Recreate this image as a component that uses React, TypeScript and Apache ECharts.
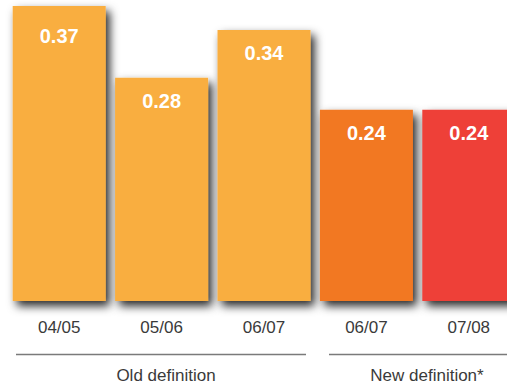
import React, { useEffect, useRef } from "react";
import * as echarts from "echarts";

// Years shown on the axis and the value of each bar
const years = ["04/05", "05/06", "06/07", "06/07", "07/08"];
const values = [0.37, 0.28, 0.34, 0.24, 0.24];
const barColors = ["#F9AE40", "#F9AE40", "#F9AE40", "#F27821", "#EE4037"];

// Grouping brackets under the axis
const groupNames = ["Old definition", "New definition*"];

const FONT = "'Liberation Sans', Arial, Helvetica, sans-serif";

export default function App() {
  const ref = useRef<HTMLDivElement>(null);

  useEffect(() => {
    if (!ref.current) return;
    const chart = echarts.init(ref.current, undefined, { renderer: "svg" });

    chart.setOption({
      animation: false,
      backgroundColor: "#ffffff",
      grid: {
        left: 8,
        top: 6,
        width: 512,
        height: 295,
        containLabel: false,
        outerBoundsMode: "none",
      },
      xAxis: {
        type: "category",
        data: years,
        axisLine: { show: false },
        axisTick: { show: false },
        axisLabel: {
          margin: 18,
          fontFamily: FONT,
          fontSize: 17,
          color: "#3a3a3a",
        },
      },
      yAxis: {
        type: "value",
        min: 0,
        max: 0.37,
        show: false,
        splitLine: { show: false },
      },
      series: [
        {
          type: "bar",
          barWidth: 93,
          data: values.map((v, i) => ({
            value: v,
            itemStyle: { color: barColors[i] },
            label: { distance: i === 0 ? 20 : 13 },
          })),
          itemStyle: {
            shadowColor: "rgba(0,0,0,0.85)",
            shadowBlur: 10,
            shadowOffsetX: 4,
            shadowOffsetY: 5,
          },
          label: {
            show: true,
            position: "insideTop",
            color: "#ffffff",
            fontFamily: FONT,
            fontWeight: "bold",
            fontSize: 20,
            formatter: (p: any) => p.value.toFixed(2),
          },
        },
      ],
      graphic: [
        {
          type: "line",
          shape: { x1: 16, y1: 354.5, x2: 306, y2: 354.5 },
          style: { stroke: "#7a7a7a", lineWidth: 1.5 },
        },
        {
          type: "line",
          shape: { x1: 329, y1: 354.5, x2: 507, y2: 354.5 },
          style: { stroke: "#7a7a7a", lineWidth: 1.5 },
        },
        {
          type: "text",
          x: 166,
          y: 375,
          style: {
            text: groupNames[0],
            fontFamily: FONT,
            fontSize: 17,
            fill: "#3a3a3a",
            align: "center",
            verticalAlign: "middle",
          },
        },
        {
          type: "text",
          x: 427,
          y: 375,
          style: {
            text: groupNames[1],
            fontFamily: FONT,
            fontSize: 17,
            fill: "#3a3a3a",
            align: "center",
            verticalAlign: "middle",
          },
        },
      ],
    });

    return () => chart.dispose();
  }, []);

  return (
    <div
      ref={ref}
      style={{ position: "fixed", left: 0, top: 0, width: 507, height: 386 }}
    />
  );
}
